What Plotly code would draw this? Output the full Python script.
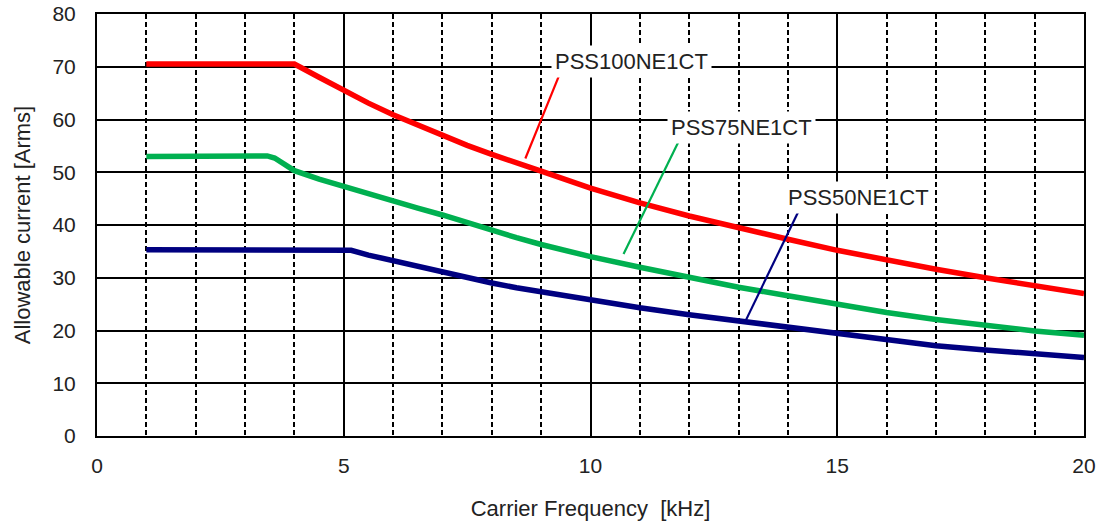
import plotly.graph_objects as go

freq_100 = [1, 2, 3, 4, 4.5, 5, 5.5, 6, 6.5, 7, 7.5, 8, 8.5, 9, 10, 11, 12, 13, 14, 15, 16, 17, 18, 19, 20]
cur_100 = [70.5, 70.5, 70.5, 70.5, 68.0, 65.5, 63.1, 60.9, 58.9, 57.0, 55.1, 53.4, 51.7, 50.2, 47.0, 44.2, 41.7, 39.4, 37.3, 35.2, 33.3, 31.6, 30.0, 28.5, 27.0]

freq_75 = [1, 2, 3, 3.3, 3.45, 3.6, 3.8, 4, 4.5, 5, 5.5, 6, 6.5, 7, 7.5, 8, 8.5, 9, 10, 11, 12, 13, 14, 15, 16, 17, 18, 19, 20]
cur_75 = [53.0, 53.0, 53.0, 53.1, 53.1, 52.7, 51.5, 50.3, 48.7, 47.3, 45.8, 44.5, 43.2, 41.9, 40.4, 39.0, 37.6, 36.3, 34.0, 32.0, 30.0, 28.2, 26.6, 24.9, 23.4, 22.1, 20.9, 19.9, 19.1]

freq_50 = [1, 2, 3, 4, 5, 5.15, 5.5, 6, 6.5, 7, 7.5, 8, 8.5, 9, 10, 11, 12, 13, 14, 15, 16, 17, 18, 19, 20]
cur_50 = [35.3, 35.3, 35.3, 35.3, 35.3, 35.2, 34.3, 33.2, 32.1, 31.0, 30.0, 29.0, 28.1, 27.3, 25.8, 24.3, 23.0, 21.8, 20.6, 19.3, 18.1, 17.1, 16.3, 15.5, 14.9]

names = ["PSS100NE1CT", "PSS75NE1CT", "PSS50NE1CT"]
colors = ["#FF0000", "#00B050", "#000080"]

# label positions (text center) and leader lines (start -> end)
label_pos = [(10.83, 71.0), (13.05, 58.4), (15.43, 45.2)]
leaders = [((9.41, 69.4), (8.68, 52.6)),
           ((11.82, 56.5), (10.67, 34.5)),
           ((14.23, 42.9), (13.12, 21.4))]

FONT = "Liberation Sans, Arial, sans-serif"

fig = go.Figure()
for fx, cy, nm, col in zip([freq_100, freq_75, freq_50], [cur_100, cur_75, cur_50], names, colors):
    fig.add_trace(go.Scatter(x=fx, y=cy, mode="lines", name=nm,
                             line=dict(color=col, width=5.5), showlegend=False))

for (lx, ly), ((x0, y0), (x1, y1)), nm, col in zip(label_pos, leaders, names, colors):
    fig.add_shape(type="line", x0=x0, y0=y0, x1=x1, y1=y1, xref="x", yref="y",
                  line=dict(color=col, width=2.2), layer="above")
    fig.add_annotation(x=lx, y=ly, text=nm, showarrow=False, bgcolor="white",
                       font=dict(size=22, color="#222", family=FONT),
                       borderpad=3)

fig.update_layout(
    width=1104, height=524,
    margin=dict(l=97, r=20, t=14, b=88),
    plot_bgcolor="white", paper_bgcolor="white",
    font=dict(family=FONT, size=21, color="#222"),
)
fig.update_xaxes(range=[0, 20], dtick=5, tick0=0, showgrid=True, gridcolor="black", gridwidth=1.5,
                 showline=True, linecolor="black", linewidth=2, mirror=True, zeroline=False,
                 ticks="", ticklabelstandoff=10, automargin=False,
                 minor=dict(dtick=1, showgrid=True, gridcolor="black", gridwidth=1.6, griddash="5px,3px"),
                 title=dict(text="Carrier Frequency&nbsp; [kHz]", font=dict(size=22), standoff=24))
fig.update_yaxes(range=[0, 80], dtick=10, showgrid=True, gridcolor="black", gridwidth=1.5,
                 showline=True, linecolor="black", linewidth=2, mirror=True, zeroline=False,
                 ticks="", ticklabelstandoff=15, automargin=False,
                 title=dict(text="Allowable current [Arms]", font=dict(size=22), standoff=16))

fig.write_html("out.html", config={"displayModeBar": False},
               post_script="document.body.style.margin='0';")
